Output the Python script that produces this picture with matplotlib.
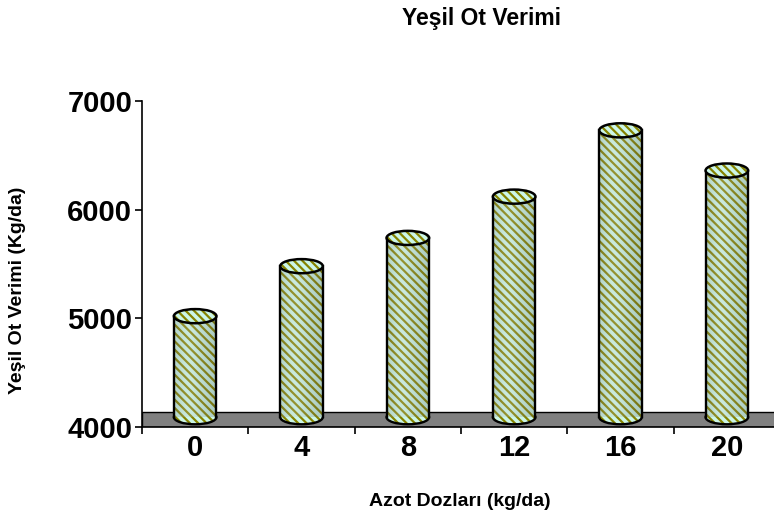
import numpy as np
import matplotlib
matplotlib.use('Agg')
import matplotlib.pyplot as plt
from matplotlib.patches import Rectangle, Ellipse

plt.rcParams['font.family'] = ['Liberation Sans', 'DejaVu Sans']
plt.rcParams['hatch.linewidth'] = 1.6

doses = ['0', '4', '8', '12', '16', '20']
yields = [5020, 5480, 5740, 6120, 6730, 6360]

stripe_light = '#ccf6e8'
stripe_dark = '#858300'
stripes = '\\\\\\\\'
base_level = 4090      # cylinders stand in the middle of the floor slab
floor_top = 4138
cyl_width = 0.40
cap_height = 130       # ellipse height in data units

fig = plt.figure(figsize=(7.74, 5.23), dpi=100)
ax = fig.add_axes([142 / 774, 96 / 523, 638 / 774, 326 / 523])
ax.set_xlim(-0.5, 5.5)
ax.set_ylim(4000, 7000)

# floor slab
ax.add_patch(Rectangle((-0.5, 4000), 6.2, floor_top - 4000, facecolor='#808080',
                       edgecolor='black', linewidth=1.0, zorder=2))

gradient = np.array([[-0.1, 0.4, 0.6, 0.4, 0.1, -0.1, -0.4]])

for i, val in enumerate(yields):
    x0 = i - cyl_width / 2
    ax.add_patch(Ellipse((i, base_level), cyl_width, cap_height, facecolor=stripe_light,
                         edgecolor=stripe_dark, hatch=stripes, linewidth=0, zorder=3))
    ax.add_patch(Ellipse((i, base_level), cyl_width, cap_height, facecolor='none',
                         edgecolor='black', linewidth=1.7, zorder=3.5))
    ax.add_patch(Rectangle((x0, base_level), cyl_width, val - base_level, facecolor=stripe_light,
                           edgecolor=stripe_dark, hatch=stripes, linewidth=0, zorder=4))
    # light/dark shading across the cylinder
    shade = ax.imshow(gradient, extent=(x0, x0 + cyl_width, base_level, val),
                      aspect='auto', cmap='gray', vmin=-1, vmax=1, alpha=0.25,
                      interpolation='bicubic', zorder=4.5)
    body_clip = Rectangle((x0, base_level), cyl_width, val - base_level, transform=ax.transData)
    shade.set_clip_path(body_clip)
    ax.plot([x0, x0], [base_level, val], color='black', linewidth=1.7, zorder=5)
    ax.plot([x0 + cyl_width] * 2, [base_level, val], color='black', linewidth=1.7, zorder=5)
    ax.add_patch(Ellipse((i, val), cyl_width, cap_height, facecolor=stripe_light,
                         edgecolor=stripe_dark, hatch=stripes, linewidth=0, zorder=6))
    ax.add_patch(Ellipse((i, val), cyl_width, cap_height, facecolor='none',
                         edgecolor='black', linewidth=1.8, zorder=6.5))

ax.set_xticks(range(len(doses)))
ax.set_xticklabels(doses, fontsize=21, fontweight='bold')
ax.set_xticks(np.arange(-0.5, 6, 1), minor=True)
ax.tick_params(axis='x', which='major', length=0, pad=5)
ax.tick_params(axis='x', which='minor', length=5, width=1.2, direction='out')
ax.set_yticks([4000, 5000, 6000, 7000])
ax.set_yticklabels(['4000', '5000', '6000', '7000'], fontsize=21, fontweight='bold')
ax.tick_params(axis='y', length=5, width=1.2, direction='out', pad=2)

for side in ('top', 'right'):
    ax.spines[side].set_visible(False)
for side in ('left', 'bottom'):
    ax.spines[side].set_linewidth(1.2)

fig.text(460 / 774, 1 - 502 / 523, 'Azot Dozları (kg/da)', ha='center', va='center',
         fontsize=14, fontweight='bold')
fig.text(18 / 774, 1 - 290 / 523, 'Yeşil Ot Verimi (Kg/da)', ha='center', va='center',
         rotation=90, fontsize=14, fontweight='bold')
fig.text(482 / 774, 1 - 18 / 523, 'Yeşil Ot Verimi', ha='center', va='center',
         fontsize=16.5, fontweight='bold')

fig.savefig('out.png', dpi=100)
